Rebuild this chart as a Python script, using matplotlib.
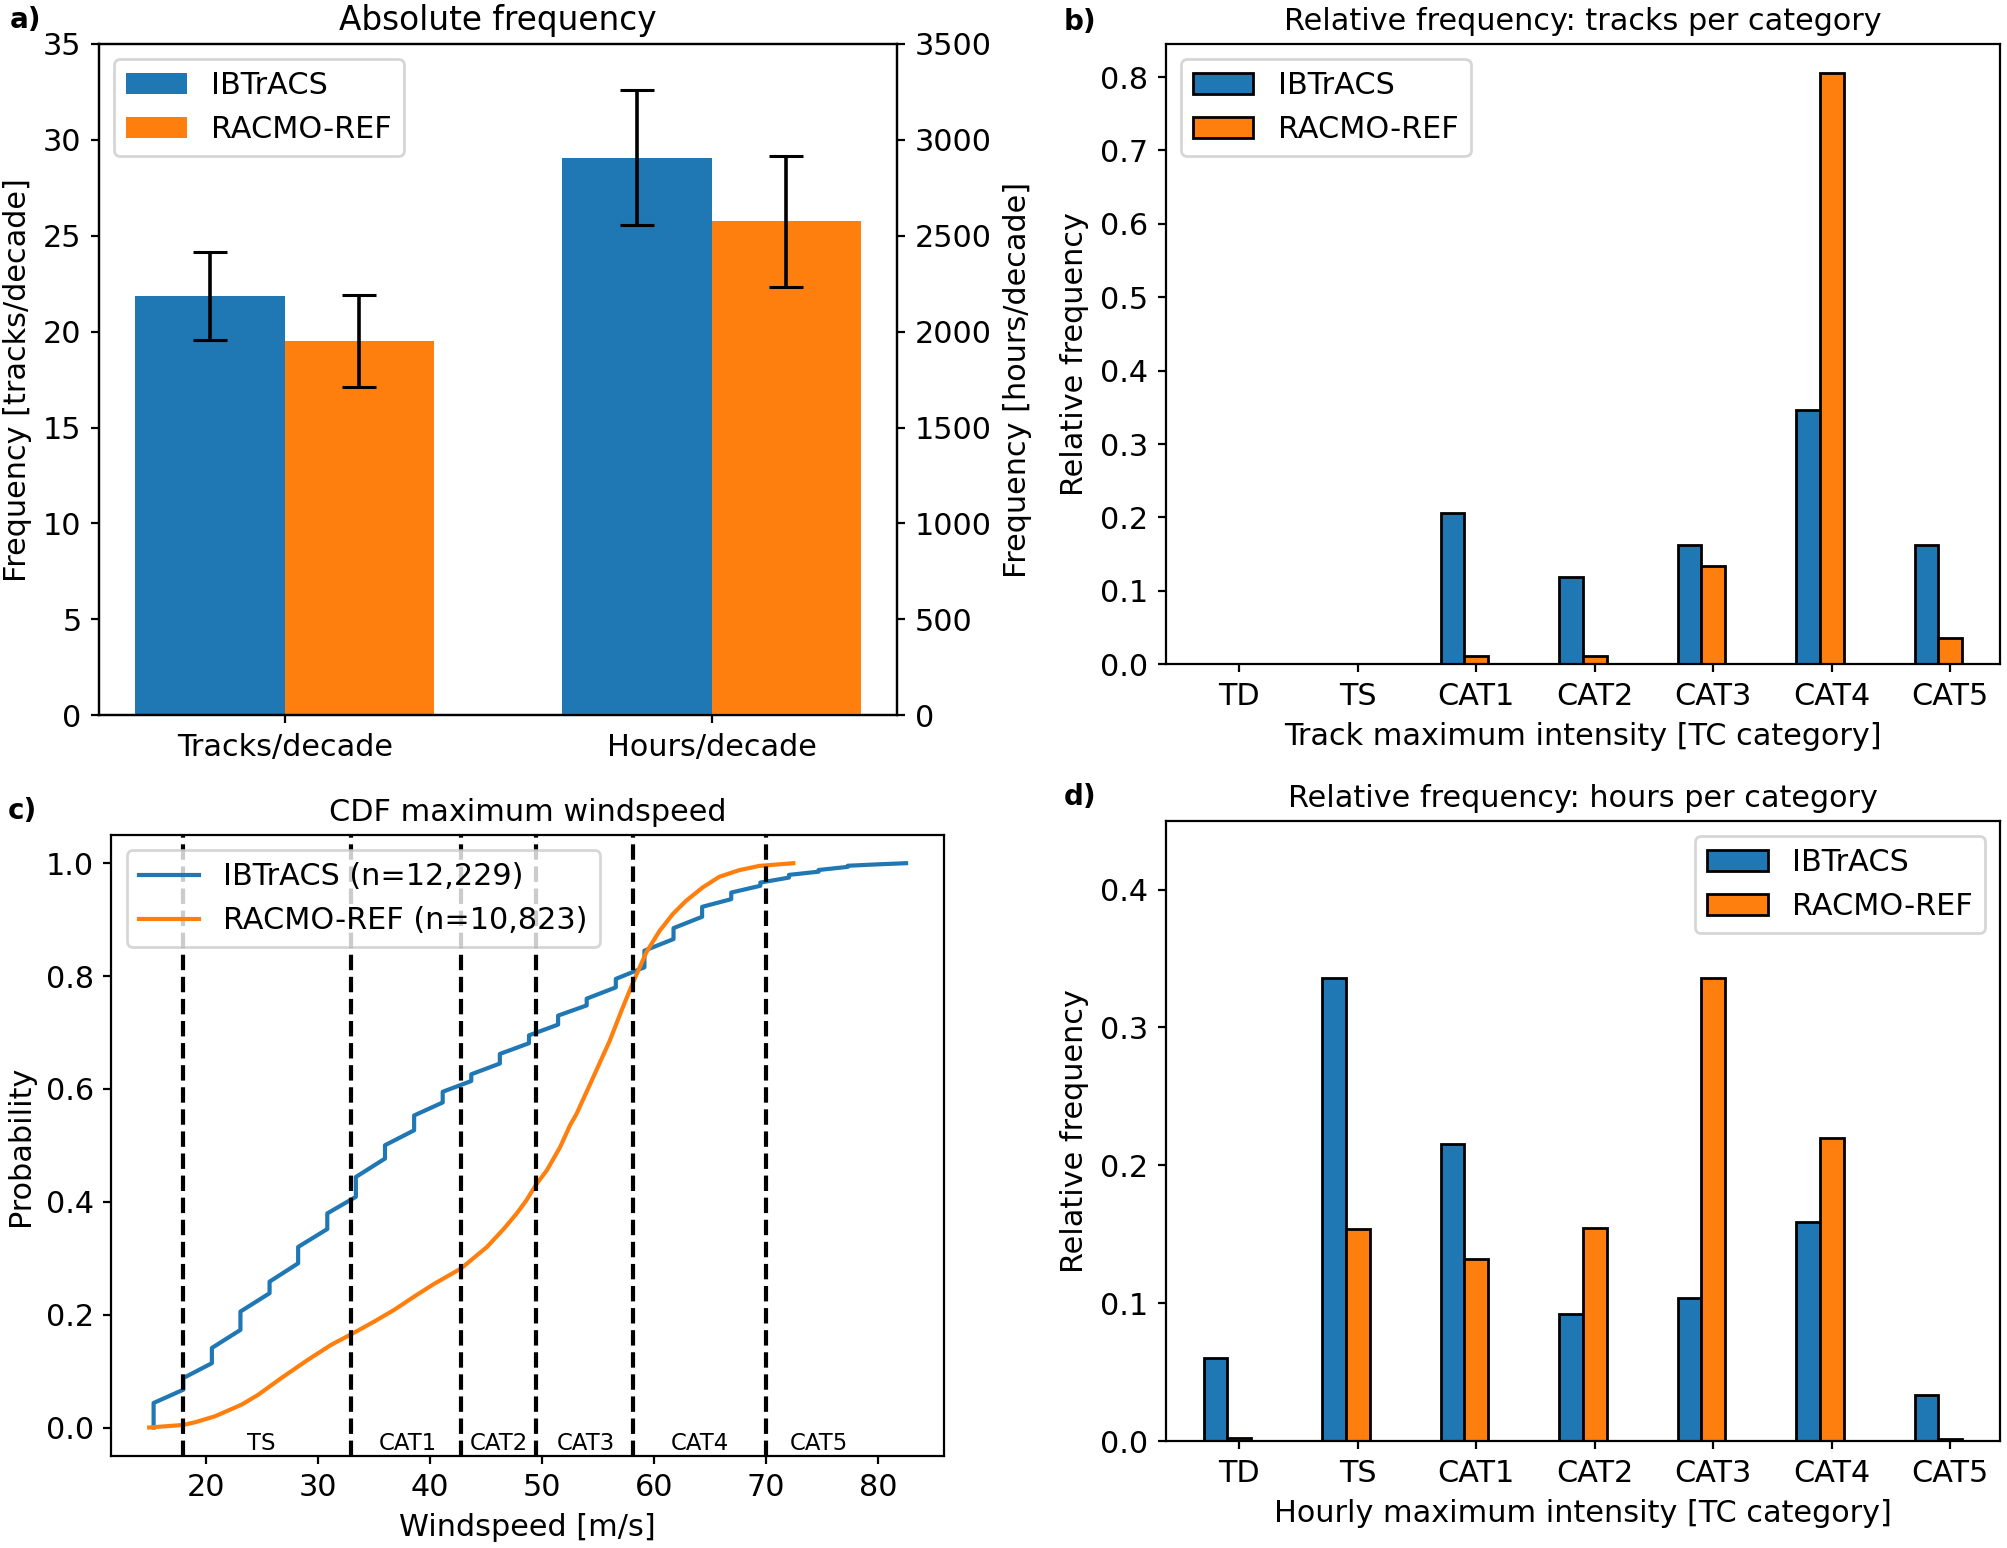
import matplotlib
matplotlib.use("Agg")
import matplotlib.pyplot as plt
import numpy as np

# ---------------- data ----------------
# Panel a: absolute frequency
abs_groups = ["Tracks/decade", "Hours/decade"]
ibt_tracks, ibt_tracks_err = 21.86, 2.30
racmo_tracks, racmo_tracks_err = 19.50, 2.40
ibt_hours, ibt_hours_err = 2906, 352
racmo_hours, racmo_hours_err = 2574, 341

# Panels b, d: relative frequencies per category
categories = ["TD", "TS", "CAT1", "CAT2", "CAT3", "CAT4", "CAT5"]
ibt_track_rel = [0.0, 0.0, 0.206, 0.119, 0.162, 0.347, 0.162]
racmo_track_rel = [0.0, 0.0, 0.0116, 0.0116, 0.134, 0.805, 0.036]
ibt_hour_rel = [0.060, 0.336, 0.2156, 0.092, 0.1037, 0.159, 0.0334]
racmo_hour_rel = [0.0025, 0.154, 0.132, 0.1545, 0.336, 0.220, 0.0014]

# Panel c: CDF of maximum windspeed (vertices)
ibt_ws = [15.35, 15.35, 18.0, 18.0, 20.55, 20.55, 23.1, 23.1, 25.7, 25.7,
          28.25, 28.25, 30.85, 30.85, 33.4, 33.4, 36.0, 36.0, 38.6, 38.6,
          41.15, 41.15, 43.7, 43.7, 46.25, 46.25, 48.85, 48.85, 51.45, 51.45,
          54.0, 54.0, 56.6, 56.6, 59.15, 59.15, 61.75, 61.75, 64.3, 64.3,
          66.9, 66.9, 69.5, 69.5, 72.05, 72.05, 74.7, 74.7, 77.3, 77.3,
          80.0, 82.5]
ibt_prob = [0.0, 0.0435, 0.067, 0.0877, 0.114, 0.141, 0.173, 0.2055, 0.238, 0.2585,
            0.291, 0.320, 0.3517, 0.3794, 0.4088, 0.444, 0.4766, 0.5002, 0.5267, 0.553,
            0.576, 0.595, 0.614, 0.626, 0.645, 0.662, 0.681, 0.695, 0.714, 0.730,
            0.748, 0.760, 0.780, 0.795, 0.8155, 0.845, 0.8656, 0.885, 0.905, 0.9227,
            0.9363, 0.948, 0.960, 0.9657, 0.9745, 0.9793, 0.985, 0.988, 0.9935, 0.9955,
            0.998, 1.0]
racmo_ws = [14.96, 18.0, 19.05, 20.83, 23.2, 24.68, 26.75, 29.12, 31.2, 33.06,
            35.04, 36.82, 38.6, 40.37, 42.8, 45.1, 46.6, 47.7, 48.6, 49.5,
            50.45, 51.63, 52.5, 53.1, 54.59, 56.07, 57.11, 58.14, 59.32, 60.5,
            61.69, 62.87, 64.35, 65.84, 67.6, 69.4, 71.17, 72.44]
racmo_prob = [0.0, 0.0046, 0.0093, 0.0199, 0.0405, 0.058, 0.0877, 0.120, 0.1466, 0.166,
              0.1878, 0.2085, 0.232, 0.2544, 0.282, 0.320, 0.352, 0.378, 0.402, 0.431,
              0.456, 0.497, 0.535, 0.556, 0.621, 0.686, 0.739, 0.789, 0.842, 0.880,
              0.910, 0.9334, 0.957, 0.976, 0.9876, 0.9952, 0.998, 1.0]
ibt_n = "12,229"
racmo_n = "10,823"

cat_thresholds = [18.0, 33.0, 42.8, 49.5, 58.1, 70.0]
cat_text = ["TS", "CAT1", "CAT2", "CAT3", "CAT4", "CAT5"]
cat_text_x = [25.0, 38.0, 46.2, 53.9, 64.1, 74.7]

# ---------------- style ----------------
BLUE = "#1f77b4"
ORANGE = "#ff7f0e"
plt.rcParams.update({
    "font.family": ["DejaVu Sans"],
    "font.size": 10.9,
    "axes.titlesize": 10.9,
    "axes.titlepad": 5,
    "legend.fontsize": 10.9,
    "xtick.major.size": 2.8,
    "ytick.major.size": 2.8,
})

W, H = 2007, 1548
DPI = 200
fig = plt.figure(figsize=(W / DPI, H / DPI), dpi=DPI)

ax_a = fig.add_axes([0.0493, 0.5379, 0.3978, 0.4338])
ax_b = fig.add_axes([0.5808, 0.5709, 0.4157, 0.4008])
ax_c = fig.add_axes([0.0555, 0.0596, 0.4148, 0.4010])
ax_d = fig.add_axes([0.5808, 0.0691, 0.4157, 0.4008])

# ---------------- panel a ----------------
w = 0.35
xg = np.arange(len(abs_groups))
ekw = dict(ecolor="black", elinewidth=1.3, capthick=1.1)
ax_a.bar(xg[0] - w / 2, ibt_tracks, w, yerr=ibt_tracks_err, capsize=6,
         color=BLUE, label="IBTrACS", error_kw=ekw)
ax_a.bar(xg[0] + w / 2, racmo_tracks, w, yerr=racmo_tracks_err, capsize=6,
         color=ORANGE, label="RACMO-REF", error_kw=ekw)
ax_a2 = ax_a.twinx()
ax_a2.bar(xg[1] - w / 2, ibt_hours, w, yerr=ibt_hours_err, capsize=6,
          color=BLUE, error_kw=ekw)
ax_a2.bar(xg[1] + w / 2, racmo_hours, w, yerr=racmo_hours_err, capsize=6,
          color=ORANGE, error_kw=ekw)
ax_a.set_ylim(0, 35)
ax_a2.set_ylim(0, 3500)
ax_a.set_xlim(-0.435, 1.435)
ax_a.set_xticks(xg)
ax_a.set_xticklabels(abs_groups)
ax_a.set_ylabel("Frequency [tracks/decade]")
ax_a2.set_ylabel("Frequency [hours/decade]")
ax_a.set_title("Absolute frequency", fontsize=11.8)
ax_a.legend(loc="upper left")

# ---------------- panel b ----------------
xc = np.arange(len(categories))
bw = 0.2
ax_b.bar(xc - bw, ibt_track_rel, bw, color=BLUE, edgecolor="black", label="IBTrACS")
ax_b.bar(xc, racmo_track_rel, bw, color=ORANGE, edgecolor="black", label="RACMO-REF")
ax_b.set_xticks(xc)
ax_b.set_xticklabels(categories)
ax_b.set_yticks(np.arange(0, 0.81, 0.1))
ax_b.set_xlabel("Track maximum intensity [TC category]")
ax_b.set_ylabel("Relative frequency")
ax_b.set_title("Relative frequency: tracks per category")
ax_b.legend(loc="upper left")

# ---------------- panel c ----------------
ax_c.plot(ibt_ws, ibt_prob, color=BLUE, lw=1.5, label=f"IBTrACS (n={ibt_n})")
ax_c.plot(racmo_ws, racmo_prob, color=ORANGE, lw=1.5, label=f"RACMO-REF (n={racmo_n})")
for t in cat_thresholds:
    ax_c.axvline(t, color="black", ls="--", lw=1.5)
for lab, xt in zip(cat_text, cat_text_x):
    ax_c.text(xt, -0.040, lab, ha="center", va="baseline", fontsize=8.2)
ax_c.set_xticks([20, 30, 40, 50, 60, 70, 80])
ax_c.set_yticks([0.0, 0.2, 0.4, 0.6, 0.8, 1.0])
ax_c.set_xlabel("Windspeed [m/s]")
ax_c.set_ylabel("Probability")
ax_c.set_title("CDF maximum windspeed")
ax_c.legend(loc="upper left")

# ---------------- panel d ----------------
ax_d.bar(xc - bw, ibt_hour_rel, bw, color=BLUE, edgecolor="black", label="IBTrACS")
ax_d.bar(xc, racmo_hour_rel, bw, color=ORANGE, edgecolor="black", label="RACMO-REF")
ax_d.set_xticks(xc)
ax_d.set_xticklabels(categories)
ax_d.set_ylim(0, 0.45)
ax_d.set_yticks([0.0, 0.1, 0.2, 0.3, 0.4])
ax_d.set_xlabel("Hourly maximum intensity [TC category]")
ax_d.set_ylabel("Relative frequency")
ax_d.set_title("Relative frequency: hours per category")
ax_d.legend(loc="upper right")

# ---------------- panel letters ----------------
for lab, px, py in [("a)", 10, 20), ("b)", 1064, 22), ("c)", 8, 811), ("d)", 1064, 797)]:
    fig.text(px / W, 1 - py / H, lab, fontweight="bold", fontsize=10,
             ha="left", va="center")

fig.savefig("out.png", dpi=DPI)
